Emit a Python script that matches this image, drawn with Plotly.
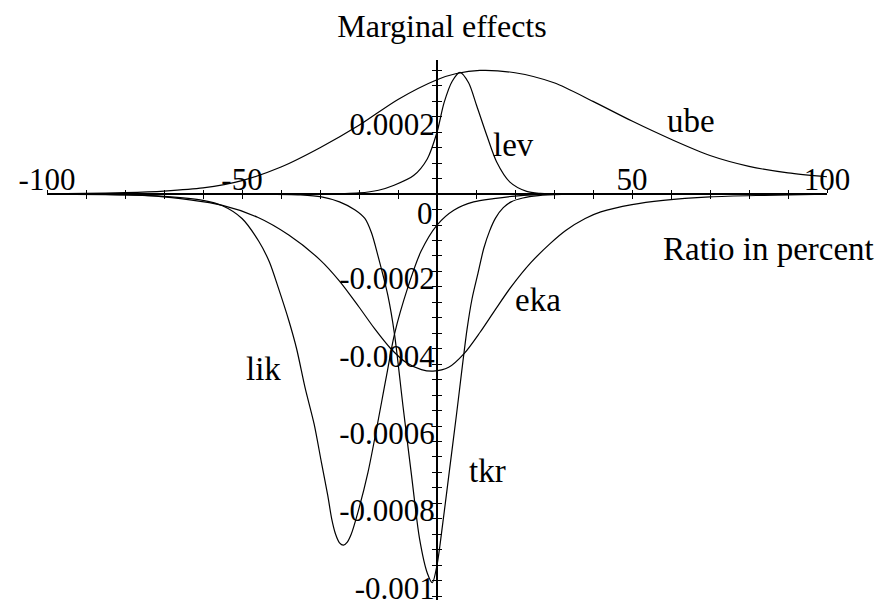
import plotly.graph_objects as go

# curves (x in percent, y marginal effect)
ube_x = [-100, -90, -80, -70, -60, -50, -40, -30, -20, -10, 0, 5, 11, 20, 30, 40, 50, 60, 70, 80, 90, 100]
ube_y = [0.000001, 0.000002, 0.000004, 0.000008, 0.000016, 0.000035, 0.00007, 0.00012, 0.000178,
         0.000245, 0.000296, 0.000312, 0.00032, 0.000314, 0.000288, 0.00024, 0.000189, 0.000142,
         0.0001, 0.000072, 0.000055, 0.000045]

lev_x = [-100, -30, -20, -15, -11, -6, -2.5, 0, 1.8, 3.9, 5.9, 8.1, 10.2, 12.8, 15.3, 18.7, 23, 26.5, 35, 100]
lev_y = [0, 0, 0.000003, 0.00001, 0.000023, 0.000048, 0.000091, 0.00016, 0.000236, 0.000292, 0.000315,
         0.000288, 0.000228, 0.000151, 0.000083, 0.000031, 0.000007, 0.000002, 0, 0]

eka_x = [-100, -85, -72, -55, -46, -38, -30, -25, -20, -16, -12, -8, -4, -1, 3, 7, 11, 15, 19, 24, 29,
         33, 38, 42, 50, 58, 70, 84, 100]
eka_y = [0, -0.000001, -0.000005, -0.000029, -0.00006, -0.000106, -0.00017, -0.000225, -0.000292,
         -0.000348, -0.000398, -0.000435, -0.000454, -0.000458, -0.000448, -0.000412, -0.000358,
         -0.000298, -0.00024, -0.000178, -0.000128, -0.000094, -0.000063, -0.000046, -0.000027,
         -0.000016, -0.000007, -0.000003, 0]

lik_x = [-100, -80, -70, -60, -55, -50, -45.7, -43, -40.7, -38, -36, -33.8, -31.5, -29.6, -28, -27,
         -26, -25, -24, -23, -22, -20.3, -17.7, -13, -10.9, -7.5, -4.1, 0, 4.3, 9.4, 14.5, 20, 30, 100]
lik_y = [0, -0.000002, -0.000006, -0.000016, -0.00003, -0.000063, -0.000122, -0.000175, -0.000242,
         -0.000327, -0.0004, -0.000502, -0.000595, -0.000696, -0.00078, -0.00084, -0.00088,
         -0.000902, -0.000908, -0.0009, -0.00088, -0.000824, -0.00072, -0.000473, -0.000362,
         -0.000242, -0.000148, -0.00008, -0.0000415, -0.00002, -0.0000115, -0.000005, 0, 0]

tkr_x = [-100, -45, -35, -29.6, -25, -21, -18.5, -16.8, -15.2, -12.6, -10.9, -8.7, -6.5, -4.5, -2.5,
         -1.2, 0, 1.5, 3, 5, 7.7, 9, 10.5, 12, 13.5, 15, 17, 19, 22, 26, 32, 45, 100]
tkr_y = [0, 0, -0.000002, -0.000007, -0.00002, -0.000041, -0.000063, -0.0001, -0.000157, -0.000262,
         -0.000362, -0.00055, -0.00073, -0.00089, -0.00098, -0.001005, -0.00096, -0.00085, -0.00073,
         -0.00057, -0.00035, -0.00027, -0.000205, -0.00014, -0.000095, -0.000062, -0.000035,
         -0.00002, -0.00001, -0.000004, -0.000001, 0, 0]

# curve names and where they are written
curve_names = ["ube", "lev", "eka", "lik", "tkr"]
label_x = [65.1, 19.6, 25.9, -44.5, 13.0]
label_y = [0.000188, 0.000127, -0.000273, -0.000453, -0.000717]

x_tick_vals = [-100, -50, 50, 100]
x_tick_text = ["-100", "-50", "50", "100"]
y_tick_vals = [0.0002, -0.0002, -0.0004, -0.0006, -0.0008, -0.001]
y_tick_text = ["0.0002", "-0.0002", "-0.0004", "-0.0006", "-0.0008", "-0.001"]

X_RANGE = [-100, 100]
Y_RANGE = [-0.00105, 0.000347]
yzero = (0 - Y_RANGE[0]) / (Y_RANGE[1] - Y_RANGE[0])
serif = "Liberation Serif"

fig = go.Figure()
curves = [(ube_x, ube_y), (lev_x, lev_y), (eka_x, eka_y), (lik_x, lik_y), (tkr_x, tkr_y)]
for i, (cx, cy) in enumerate(curves):
    # ube sits on the overlay axes so their ticks get drawn on the other side of the axis lines
    axes = dict(xaxis="x2", yaxis="y2") if i == 0 else {}
    fig.add_trace(go.Scatter(x=cx, y=cy, mode="lines", name=curve_names[i],
                             line=dict(color="black", width=1.2, shape="spline", smoothing=0.8),
                             hoverinfo="skip", **axes))

for name, lx, ly in zip(curve_names, label_x, label_y):
    fig.add_annotation(x=lx, y=ly, text=name, showarrow=False,
                       font=dict(family=serif, size=33, color="black"))

fig.add_annotation(x=85.1, y=-0.000142, text="Ratio in percent", showarrow=False,
                   font=dict(family=serif, size=33, color="black"))
fig.add_annotation(x=0, y=0, text="0", showarrow=False, xanchor="right", yanchor="middle",
                   xshift=-2, yshift=-19, font=dict(family=serif, size=31, color="black"))

axis_common = dict(showgrid=False, zeroline=False, showline=True, linecolor="black", linewidth=2,
                   tickcolor="black", tickwidth=1.4, anchor="free")

# the page body adds 8px on the top and left, so the margins are pulled in by that much
fig.update_layout(
    width=887, height=608,
    margin=dict(l=30, r=68, t=52, b=11),
    paper_bgcolor="white", plot_bgcolor="white",
    showlegend=False,
    title=dict(text="Marginal effects", x=434 / 887, xanchor="center", y=1 - 18 / 608,
               yanchor="middle", font=dict(family=serif, size=32, color="black")),
    xaxis=dict(range=X_RANGE, position=yzero, side="top", ticks="inside", ticklen=4,
               tickmode="array", tickvals=x_tick_vals, ticktext=x_tick_text,
               ticklabelstandoff=-9,
               tickfont=dict(family=serif, size=31, color="black"),
               minor=dict(tickmode="linear", tick0=0, dtick=10, ticks="inside", ticklen=4,
                          tickcolor="black", tickwidth=1.2),
               **axis_common),
    xaxis2=dict(range=X_RANGE, position=yzero, side="top", overlaying="x", ticks="outside",
                ticklen=3, showticklabels=False, tickmode="array", tickvals=x_tick_vals,
                minor=dict(tickmode="linear", tick0=0, dtick=10, ticks="outside", ticklen=3,
                           tickcolor="black", tickwidth=1.2),
                **axis_common),
    yaxis=dict(range=Y_RANGE, position=0.5, side="left", ticks="outside", ticklen=4,
               tickmode="array", tickvals=y_tick_vals, ticktext=y_tick_text,
               ticklabelstandoff=-9, ticklabelshift=7,
               tickfont=dict(family=serif, size=31, color="black"),
               minor=dict(tickmode="linear", tick0=0, dtick=0.00004, ticks="outside", ticklen=4,
                          tickcolor="black", tickwidth=1.2),
               **axis_common),
    yaxis2=dict(range=Y_RANGE, position=0.5, side="left", overlaying="y", ticks="inside",
                ticklen=4, showticklabels=False, tickmode="array", tickvals=y_tick_vals,
                minor=dict(tickmode="linear", tick0=0, dtick=0.00004, ticks="inside", ticklen=4,
                           tickcolor="black", tickwidth=1.2),
                **axis_common),
)

fig.write_html("out.html")
